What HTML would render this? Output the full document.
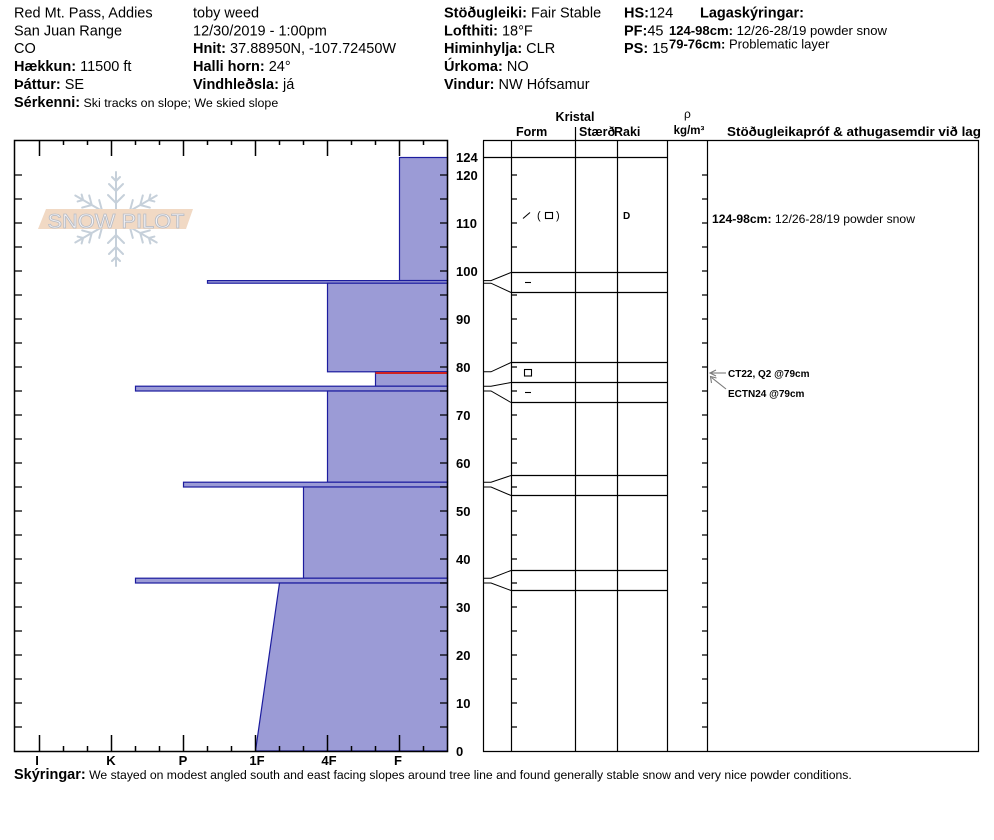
<!DOCTYPE html>
<html>
<head>
<meta charset="utf-8">
<style>
html,body{margin:0;padding:0;background:#fff;}
svg{display:block;font-family:"Liberation Sans",Arial,sans-serif;}
.b{font-weight:bold;}
</style>
</head>
<body>
<svg width="994" height="840" viewBox="0 0 994 840" xmlns="http://www.w3.org/2000/svg">
<rect width="994" height="840" fill="#fff"/>

<!-- Header text -->
<g font-size="14.5" fill="#000">
  <text x="14" y="17.5">Red Mt. Pass, Addies</text>
  <text x="14" y="35.3">San Juan Range</text>
  <text x="14" y="53">CO</text>
  <text x="14" y="71"><tspan class="b">Hækkun:</tspan> 11500 ft</text>
  <text x="14" y="89"><tspan class="b">Þáttur:</tspan> SE</text>
  <text x="14" y="107"><tspan class="b">Sérkenni:</tspan><tspan font-size="12.4"> Ski tracks on slope; We skied slope</tspan></text>

  <text x="193" y="17.5">toby weed</text>
  <text x="193" y="35.3">12/30/2019 - 1:00pm</text>
  <text x="193" y="53"><tspan class="b">Hnit:</tspan> 37.88950N, -107.72450W</text>
  <text x="193" y="71"><tspan class="b">Halli horn:</tspan> 24°</text>
  <text x="193" y="89"><tspan class="b">Vindhleðsla:</tspan> já</text>

  <text x="444" y="17.5"><tspan class="b">Stöðugleiki:</tspan> Fair Stable</text>
  <text x="444" y="35.3"><tspan class="b">Lofthiti:</tspan> 18°F</text>
  <text x="444" y="53"><tspan class="b">Himinhylja:</tspan> CLR</text>
  <text x="444" y="71"><tspan class="b">Úrkoma:</tspan> NO</text>
  <text x="444" y="89"><tspan class="b">Vindur:</tspan>  NW Hófsamur</text>

  <text x="624" y="17.5"><tspan class="b">HS:</tspan>124</text>
  <text x="624" y="35.3"><tspan class="b">PF:</tspan>45</text>
  <text x="624" y="53"><tspan class="b">PS:</tspan> 15</text>
  <text x="700" y="17.5" class="b">Lagaskýringar:</text>
</g>
<g font-size="13" fill="#000">
  <text x="669" y="35" textLength="218" lengthAdjust="spacingAndGlyphs"><tspan class="b">124-98cm:</tspan> 12/26-28/19 powder snow</text>
  <text x="669" y="48.5"><tspan class="b">79-76cm:</tspan> Problematic layer</text>
</g>

<!-- Watermark -->
<g stroke="#c6d0da" stroke-width="2" fill="none" stroke-linecap="round">
  <g transform="translate(116,219)">
    <g id="arm">
      <path d="M0 0V-47 M0 -16l-8 -8 M0 -16l8 -8 M0 -28l-7 -7 M0 -28l7 -7 M0 -38l-4 -4 M0 -38l4 -4"/>
    </g>
    <use href="#arm" transform="rotate(60)"/>
    <use href="#arm" transform="rotate(120)"/>
    <use href="#arm" transform="rotate(180)"/>
    <use href="#arm" transform="rotate(240)"/>
    <use href="#arm" transform="rotate(300)"/>
  </g>
</g>
<polygon points="46,209 193,209 186,229 38,229" fill="#f1d9c4"/>
<text x="116" y="228" text-anchor="middle" font-size="20" fill="#f4f4f8" stroke="#b8bcc4" stroke-width="0.8" textLength="137" lengthAdjust="spacingAndGlyphs">SNOW PILOT</text>

<!-- Layers -->
<g fill="#9b9bd6" stroke="#1c1c9e" stroke-width="1.2">
  <rect x="399.5" y="157.5" width="48" height="123"/>
  <rect x="207.5" y="280.6" width="240" height="2.6"/>
  <rect x="327.5" y="283.2" width="120" height="88.6"/>
  <rect x="375.5" y="371.8" width="72" height="14.4"/>
  <rect x="135.5" y="386.2" width="312" height="4.8"/>
  <rect x="327.5" y="391" width="120" height="91.2"/>
  <rect x="183.5" y="482.2" width="264" height="4.8"/>
  <rect x="303.5" y="487" width="144" height="91.2"/>
  <rect x="135.5" y="578.2" width="312" height="4.8"/>
  <polygon points="279.5,583 447.5,583 447.5,751 255.5,751"/>
</g>
<line x1="375.5" y1="373" x2="447" y2="373" stroke="#d02222" stroke-width="2"/>

<!-- Left chart axes -->
<g stroke="#000" fill="none">
  <path d="M14.5 140.5H447.5V751.5H14.5Z" stroke-width="1.5"/>
  <path stroke-width="1.2" d="M14 727h8M14 703h8M14 679h8M14 655h8M14 631h8M14 607h8M14 583h8M14 559h8M14 535h8M14 511h8M14 487h8M14 463h8M14 439h8M14 415h8M14 391h8M14 367h8M14 343h8M14 319h8M14 295h8M14 271h8M14 247h8M14 223h8M14 199h8M14 175h8"/>
  <path stroke-width="1.2" d="M447 727h-7M447 703h-7M447 679h-7M447 655h-7M447 631h-7M447 607h-7M447 583h-7M447 559h-7M447 535h-7M447 511h-7M447 487h-7M447 463h-7M447 439h-7M447 415h-7M447 391h-7M447 367h-7M447 343h-7M447 319h-7M447 295h-7M447 271h-7M447 247h-7M447 223h-7M447 199h-7M447 175h-7"/>
  <path stroke-width="1.5" d="M39.5 140v16M63.5 140v5M87.5 140v5M111.5 140v16M135.5 140v5M159.5 140v5M183.5 140v16M207.5 140v5M231.5 140v5M255.5 140v16M279.5 140v5M303.5 140v5M327.5 140v16M351.5 140v5M375.5 140v5M399.5 140v16M423.5 140v5"/>
  <path stroke-width="1.5" d="M39.5 751v-16M63.5 751v-5M87.5 751v-5M111.5 751v-16M135.5 751v-5M159.5 751v-5M183.5 751v-16M207.5 751v-5M231.5 751v-5M255.5 751v-16M279.5 751v-5M303.5 751v-5M327.5 751v-16M351.5 751v-5M375.5 751v-5M399.5 751v-16M423.5 751v-5"/>
</g>
<g font-size="13" font-weight="bold" fill="#000">
  <text x="456" y="162">124</text>
  <text x="456" y="180">120</text>
  <text x="456" y="228">110</text>
  <text x="456" y="276">100</text>
  <text x="456" y="324">90</text>
  <text x="456" y="372">80</text>
  <text x="456" y="420">70</text>
  <text x="456" y="468">60</text>
  <text x="456" y="516">50</text>
  <text x="456" y="564">40</text>
  <text x="456" y="612">30</text>
  <text x="456" y="660">20</text>
  <text x="456" y="708">10</text>
  <text x="456" y="756">0</text>
</g>
<g font-size="13" font-weight="bold" fill="#000" text-anchor="middle">
  <text x="37" y="765">I</text>
  <text x="111" y="765">K</text>
  <text x="183" y="765">P</text>
  <text x="257" y="765">1F</text>
  <text x="329" y="765">4F</text>
  <text x="398" y="765">F</text>
</g>

<!-- Table header -->
<g font-size="12.5" font-weight="bold" fill="#000">
  <text x="575" y="121" text-anchor="middle">Kristal</text>
  <text x="516" y="136">Form</text>
  <text x="579" y="136">Stærð</text>
  <text x="614" y="136">Raki</text>
  <text x="684" y="118" font-weight="normal" font-size="12">ρ</text>
  <text x="689" y="134" text-anchor="middle" font-size="11.5">kg/m³</text>
  <text x="727" y="136" font-size="13" textLength="254" lengthAdjust="spacingAndGlyphs">Stöðugleikapróf &amp; athugasemdir við lag</text>
</g>

<!-- Table lines -->
<g stroke="#000" stroke-width="1.2" fill="none">
  <path d="M575.5 127V141"/>
  <path d="M483 140.5H978.5V751.5H483.5V140.5"/>
  <path d="M511.5 141V751M575.5 141V751M617.5 141V751M667.5 141V751M707.5 141V751"/>
  <path d="M483 157.5H667.5"/>
  <path d="M511 272.5H667.5M511 292.5H667.5M511 362.5H667.5M511 382.5H667.5M511 402.5H667.5M511 475.5H667.5M511 495.5H667.5M511 570.5H667.5M511 590.5H667.5"/>
  <path stroke-width="1" d="M483 280.6H491L511 272.5M483 283.2H491L511 292.5M483 371.8H491L511 362.5M483 386.2H491L511 382.5M483 391H491L511 402.5M483 482.2H491L511 475.5M483 487H491L511 495.5M483 578.2H491L511 570.5M483 583H491L511 590.5"/>
  <path d="M511 727h6M511 703h6M511 679h6M511 655h6M511 631h6M511 607h6M511 583h6M511 559h6M511 535h6M511 511h6M511 487h6M511 463h6M511 439h6M511 415h6M511 391h6M511 367h6M511 343h6M511 319h6M511 295h6M511 247h6M511 223h6M511 199h6M511 175h6"/>
  <path d="M707 727h-5M707 703h-5M707 679h-5M707 655h-5M707 631h-5M707 607h-5M707 583h-5M707 559h-5M707 535h-5M707 511h-5M707 487h-5M707 463h-5M707 439h-5M707 415h-5M707 391h-5M707 367h-5M707 343h-5M707 319h-5M707 295h-5M707 271h-5M707 247h-5M707 223h-5M707 199h-5M707 175h-5"/>
</g>

<!-- Table symbols -->
<g stroke="#000" stroke-width="1.1" fill="none">
  <path d="M523 218.5L530 212.5"/>
  <rect x="545.5" y="212.5" width="7" height="6"/>
  <path d="M525 282.5h6"/>
  <rect x="524.5" y="369.5" width="7" height="6.5"/>
  <path d="M525 392.5h6"/>
</g>
<g font-size="11" fill="#000">
  <text x="537" y="219">(</text>
  <text x="556" y="219">)</text>
  <text x="623" y="219" font-weight="bold" font-size="10">D</text>
</g>

<!-- Comments -->
<g font-size="12" fill="#000">
  <text x="712" y="223" textLength="203" lengthAdjust="spacingAndGlyphs"><tspan class="b">124-98cm:</tspan> 12/26-28/19 powder snow</text>
</g>
<g font-size="10" font-weight="bold" fill="#000">
  <text x="728" y="377">CT22, Q2 @79cm</text>
  <text x="728" y="397">ECTN24 @79cm</text>
</g>
<g stroke="#7a7a7a" stroke-width="1.1" fill="none">
  <path d="M726 373H711"/>
  <path d="M716 370L710 373L716 376"/>
  <path d="M726 389L711.5 377.5"/>
  <path d="M711.5 383L710.5 376.5L716.5 378"/>
</g>

<!-- Footer -->
<text x="14" y="779" font-size="14.5" fill="#000"><tspan class="b">Skýringar:</tspan><tspan font-size="12.2"> We stayed on modest angled south and east facing slopes around tree line and found generally stable snow and very nice powder conditions.</tspan></text>
</svg>
</body>
</html>
